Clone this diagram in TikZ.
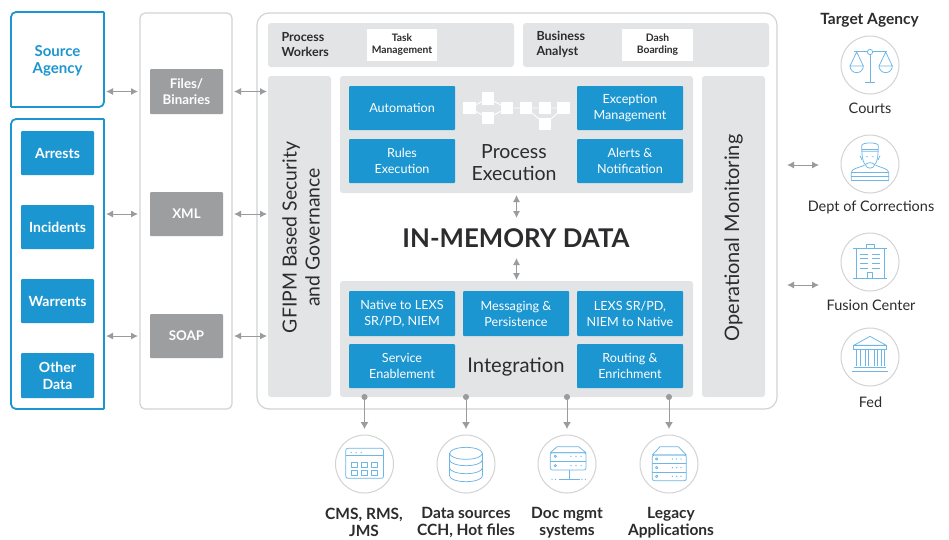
\documentclass[tikz,border=0pt]{standalone}
\usepackage{fontspec}
\setmainfont{Lato}
\usetikzlibrary{arrows.meta,calc}
\definecolor{bl}{HTML}{1C96D1}
\definecolor{gr}{HTML}{9D9EA0}
\definecolor{lg}{HTML}{E3E4E5}
\definecolor{bd}{HTML}{D2D3D3}
\definecolor{tx}{HTML}{2C2C2E}
\definecolor{ic}{HTML}{6DB6E6}
\definecolor{ar}{HTML}{9A9B9D}
\newcommand{\bx}[7][]{%
  \pgfmathsetmacro{\bxw}{#5-#3}\pgfmathsetmacro{\bxh}{#6-#4}%
  \pgfmathsetmacro{\cxx}{(#3+#5)/2}\pgfmathsetmacro{\cyy}{(#4+#6)/2}%
  \node[#1,minimum width=\bxw pt,minimum height=\bxh pt] (#2) at (\cxx,\cyy) {#7};}
\newcommand{\threedots}[3]{\fill[ic] (#1,#3) circle[radius=2.2] (#2,#3) circle[radius=2.2] ({2*#2-#1},#3) circle[radius=2.2];}
\tikzset{
  x=1pt,y=-1pt,
  every node/.style={inner sep=0pt,outer sep=0pt,align=center,text=tx,font=\fontsize{13}{16}\selectfont},
  bluebox/.style={fill=bl,rounded corners=1pt,text=white,font=\fontsize{12.6}{16}\selectfont},
  boldblue/.style={fill=bl,rounded corners=1pt,text=white,font=\bfseries\fontsize{14}{17}\selectfont},
  graybox/.style={fill=gr,rounded corners=1pt,text=white,font=\bfseries\fontsize{13.3}{16.5}\selectfont},
  lightbox/.style={fill=lg,rounded corners=3pt},
  whitebox/.style={fill=white,font=\bfseries\fontsize{10.3}{12}\selectfont},
  headtext/.style={font=\bfseries\fontsize{12.5}{14.5}\selectfont,align=left},
  framebox/.style={draw=bd,line width=1.2pt,fill=white},
  bigtext/.style={font=\fontsize{19.5}{22}\selectfont},
  ring/.style={circle,draw=bd,line width=1pt,minimum size=58pt,fill=white},
  dbl/.style={draw=ar,line width=1pt,{Latex[length=7pt,width=7pt]}-{Latex[length=7pt,width=7pt]}},
  tap/.style={draw=ar,line width=1pt,{Circle[length=6pt,width=6pt]}-{Latex[length=7pt,width=8pt]},shorten <=-3pt},
  agency/.style={font=\fontsize{14.5}{16}\selectfont},
  system/.style={font=\bfseries\fontsize{15.5}{17}\selectfont},
  icon/.style={draw=ic,line width=0.75pt,line join=round},
  iconscope/.style={x=0.3333pt,y=-0.3333pt},
  wf/.style={fill=white,minimum size=12.5pt},
  wfl/.style={draw=white,line width=0.9pt},
}
\begin{document}
\begin{tikzpicture}
\useasboundingbox (0,0) rectangle (949,539);
\fill[white] (0,0) rectangle (949,539);
% source agency
\bx{source}{11}{12}{104}{107}{}
\node[font=\bfseries\fontsize{15}{17}\selectfont,text=bl] (sourcet) at (57.5,60.5) {Source\\Agency};
\draw[bl,line width=1.8pt,rounded corners=5pt] (source.north east) -- (source.north west) -- (source.south west);
\draw[bl,line width=1.8pt,rounded corners=5pt] (source.south west) -- (source.south east) -- (source.north east);
\bx{data}{11}{119}{104}{409}{}
\draw[bl,line width=1.8pt,rounded corners=5pt] (data.north east) -- (data.north west) -- (data.south west) -- (data.south east);
\draw[bl,line width=1.8pt] (data.south east) -- (data.north east);
\bx[boldblue]{arrests}{21}{131}{94}{175}{Arrests}
\bx[boldblue]{incidents}{21}{205}{94}{249}{Incidents}
\bx[boldblue]{warrents}{21}{279}{94}{323}{Warrents}
\bx[boldblue]{other}{21}{353}{94}{398}{Other\\Data}
% middle panel
\bx[framebox,rounded corners=5pt]{panel}{140}{13}{232}{409}{}
\bx[graybox]{files}{150}{69}{223}{114}{Files/\\Binaries}
\bx[graybox]{xml}{150}{192}{223}{236}{XML}
\bx[graybox]{soap}{150}{314}{223}{358}{SOAP}
% main frame
\bx[framebox,rounded corners=12pt]{main}{257}{13}{777}{409}{}
\bx[lightbox]{pwbar}{268}{23}{514}{67}{}
\bx[lightbox]{babar}{523}{23}{769}{67}{}
\node[headtext,anchor=west] (pw) at (281.5,44.5) {Process\\Workers};
\node[headtext,anchor=west] (ba) at (536.5,44.5) {Business\\Analyst};
\bx[whitebox]{task}{367}{29}{437}{61}{Task\\Management}
\bx[whitebox]{dash}{622}{29}{693}{61}{Dash\\Boarding}
\bx[lightbox]{gfipm}{268}{76}{331}{397}{}
\bx[lightbox]{opmon}{702}{76}{765}{397}{}
\node[rotate=90,font=\fontsize{19.4}{23}\selectfont] (gfipmt) at (301,237.5) {GFIPM Based Security\\and Governance};
\node[rotate=90,font=\fontsize{20}{23}\selectfont] (opmont) at (733.5,238) {Operational Monitoring};
\bx[lightbox]{proc}{340}{76}{693}{193}{}
\bx[lightbox]{integ}{340}{281}{693}{397}{}
\bx[bluebox]{auto}{349}{86}{455}{130}{Automation}
\bx[bluebox]{rules}{349}{139}{455}{183}{Rules\\Execution}
\bx[bluebox]{exc}{577}{86}{683}{130}{Exception\\Management}
\bx[bluebox]{alerts}{577}{139}{683}{183}{Alerts \&\\Notification}
\node[bigtext] (proct) at (514,163) {Process\\Execution};
\bx[bluebox]{native}{349}{291}{455}{336}{Native to LEXS\\SR/PD, NIEM}
\bx[bluebox]{msg}{463}{291}{569}{336}{Messaging \&\\Persistence}
\bx[bluebox]{lexs}{577}{291}{683}{336}{LEXS SR/PD,\\NIEM to Native}
\bx[bluebox]{svc}{349}{344}{455}{388}{Service\\Enablement}
\bx[bluebox]{route}{577}{344}{683}{388}{Routing \&\\Enrichment}
\node[font=\fontsize{20.2}{24}\selectfont] (integt) at (516,367) {Integration};
\bx[font=\bfseries\fontsize{25.8}{28}\selectfont]{inmem}{400}{218}{632}{258}{IN-MEMORY DATA}
% workflow glyph
\node[wf] (w1) at (469.5,108) {};
\node[wf] (w2) at (488,98.5) {};
\node[wf] (w3) at (488,118) {};
\node[wf] (w4) at (507,108) {};
\node[wf] (w5) at (526,108) {};
\node[wf] (w6) at (545,108) {};
\node[wf] (w7) at (563.5,108) {};
\node[wf] (w8) at (545,124) {};
\draw[wfl] (w1)--(w2) (w1)--(w3) (w2)--(w4) (w3)--(w4) (w4)--(w5) (w5)--(w6) (w6)--(w7) (w5)--(w8) (w8)--(w7);
% arrows
\draw[dbl,shorten <=2pt,shorten >=2pt] (source.east |- files) -- (panel.west |- files);
\draw[dbl,shorten <=2pt,shorten >=2pt] (data.east |- xml) -- (panel.west |- xml);
\draw[dbl,shorten <=2pt,shorten >=2pt] (data.east |- soap) -- (panel.west |- soap);
\draw[dbl,shorten <=2pt,shorten >=1pt] (panel.east |- files) -- (gfipm.west |- files);
\draw[dbl,shorten <=2pt,shorten >=1pt] (panel.east |- xml) -- (gfipm.west |- xml);
\draw[dbl,shorten <=2pt,shorten >=1pt] (panel.east |- soap) -- (gfipm.west |- soap);
\coordinate (c1) at ($(proc.south)+(0,2)$);
\coordinate (c2) at ($(integ.north)+(0,-1)$);
\draw[dbl] (c1) -- (c1 |- inmem.north);
\draw[dbl] (c1 |- inmem.south) -- (c2);
\coordinate (ra) at (787,165);
\coordinate (rb) at (819,165);
\coordinate (rc) at (787,285);
\coordinate (rd) at (819,285);
\draw[dbl] (ra) -- (rb);
\draw[dbl] (rc) -- (rd);
% rings
\node[ring] (courts) at (870,65) {};
\node[ring] (dept) at (870,164) {};
\node[ring] (fusion) at (870,262) {};
\node[ring] (fed) at (870,357) {};
\node[ring] (cms) at (364.5,464) {};
\node[ring] (dsrc) at (466,464) {};
\node[ring] (doc) at (567,464) {};
\node[ring] (leg) at (669,464) {};
\foreach \r in {cms,dsrc,doc,leg}{\draw[tap,shorten >=6pt] (integ.south -| \r.north) -- (\r.north);}
% labels
\node[font=\bfseries\fontsize{15.5}{18}\selectfont] (tgt) at (869.5,20.5) {Target Agency};
\node[agency] (l1) at (870,108.5) {Courts};
\node[agency] (l2) at (871,207.5) {Dept of Corrections};
\node[agency] (l3) at (871,305.5) {Fusion Center};
\node[agency] (l4) at (870.5,402.5) {Fed};
\node[system] (s1) at (364,522.5) {CMS, RMS,\\JMS};
\node[system] (s2) at (466,522.5) {Data sources\\CCH, Hot files};
\node[system] (s3) at (567,522.5) {Doc mgmt\\systems};
\node[system] (s4) at (671,522.5) {Legacy\\Applications};
% icons: scales
\begin{scope}[shift={(courts.center)},iconscope]
\draw[icon] (-48,-41)--(50,-41) (0,-31)--(0,53) (-16,53)--(16,53);
\draw[icon,fill=white] (0,-39) circle[radius=8];
\draw[icon] (-60,3)--(-40,-39)--(-20,3)--cycle;
\draw[icon] (-60,3) arc[start angle=180,end angle=0,radius=20];
\draw[icon] (27,3)--(47,-39)--(67,3)--cycle;
\draw[icon] (27,3) arc[start angle=180,end angle=0,radius=20];
\end{scope}
% guard
\begin{scope}[shift={(dept.center)},iconscope]
\draw[icon] (-25,-38) -- (-25,-55) .. controls (-25,-66) and (25,-66) .. (25,-55) -- (25,-38) -- cycle;
\draw[icon] (-25,-45)--(25,-45);
\draw[icon] (-24,-38) .. controls (-24,-12) and (-18,-2) .. (-14,2) .. controls (-10,16) and (10,16) .. (14,2) .. controls (18,-2) and (24,-12) .. (24,-38);
\draw[icon] (-30,-25)--(-24,-12) (30,-25)--(24,-12) (-14,2) .. controls (-6,-6) and (6,-6) .. (14,2);
\fill[ic] (-9,-22) circle[radius=2.2] (9,-22) circle[radius=2.2];
\draw[icon] (-56,48)--(-56,26) .. controls (-56,14) and (-36,12) .. (-17,4);
\draw[icon] (56,48)--(56,26) .. controls (56,14) and (36,12) .. (17,4);
\draw[icon] (-56,48)--(56,48) (-56,26)--(56,26) (-56,37)--(56,37);
\end{scope}
% building
\begin{scope}[shift={(fusion.center)},iconscope]
\draw[icon] (-42,-40) rectangle (42,48);
\draw[icon] (-50,-40)--(52,-40) (-50,48)--(52,48);
\draw[icon] (-11,-40)--(-11,-54)--(13,-54)--(13,-40);
\draw[icon] (-7,48)--(-7,30)--(7,30)--(7,48);
\foreach \y in {-24,-10,4,18}{\draw[icon] (-29,\y)--(-6,\y) (6,\y)--(31,\y);}
\end{scope}
% fed
\begin{scope}[shift={(fed.center)},iconscope]
\draw[icon] (-49,-35)--(0,-62)--(49,-35)--cycle;
\draw[icon] (-49,-35) rectangle (49,-24);
\foreach \p in {-40,-30,-14,-4,12,22,34,42}{\draw[icon] (\p,-24)--(\p,28);}
\draw[icon] (-49,31)--(49,31) (-53,44)--(54,44);
\end{scope}
% cms
\begin{scope}[shift={(cms.center)},iconscope]
\draw[icon,rounded corners=2pt] (-56,-47) rectangle (57,43);
\draw[icon] (-56,-25)--(57,-25);
\threedots{-40}{-25}{-34}
\foreach \a in {-38,-8,22}{\foreach \b in {-5,18}{\draw[icon] (\a,\b) rectangle ++(17,16);}}
\end{scope}
% database
\begin{scope}[shift={(dsrc.center)},iconscope]
\draw[icon] (0,-32) ellipse[x radius=49,y radius=18];
\draw[icon] (-49,-32)--(-49,36) (49,-32)--(49,36);
\foreach \y in {-12,12,36}{\draw[icon] (-49,\y) arc[start angle=180,end angle=0,x radius=49,y radius=17];}
\end{scope}
% doc servers
\begin{scope}[shift={(doc.center)},iconscope]
\draw[icon] (-50,-34)--(-30,-52)--(35,-52)--(57,-34)--cycle;
\draw[icon,rounded corners=2pt] (-50,-34) rectangle (57,18);
\draw[icon] (-50,-9)--(57,-9);
\foreach \y in {-23,5}{\draw[icon] (-35,\y) circle[radius=3.5];\threedots{12}{27}{\y}}
\draw[icon] (8,18)--(8,46) (-25,46)--(40,46);
\fill[ic] (-45,46) circle[radius=2] (-35,46) circle[radius=2] (45,46) circle[radius=2] (55,46) circle[radius=2];
\end{scope}
% legacy servers
\begin{scope}[shift={(leg.center)},iconscope]
\draw[icon] (-50,-27)--(-27,-52)--(28,-52)--(52,-27)--cycle;
\draw[icon,rounded corners=2pt] (-50,-27) rectangle (52,50);
\draw[icon] (-50,-2)--(52,-2) (-50,24)--(52,24);
\foreach \y in {-15,11,37}{\draw[icon] (-37,\y) circle[radius=3.5];\threedots{10}{23}{\y}}
\end{scope}
\end{tikzpicture}
\end{document}
